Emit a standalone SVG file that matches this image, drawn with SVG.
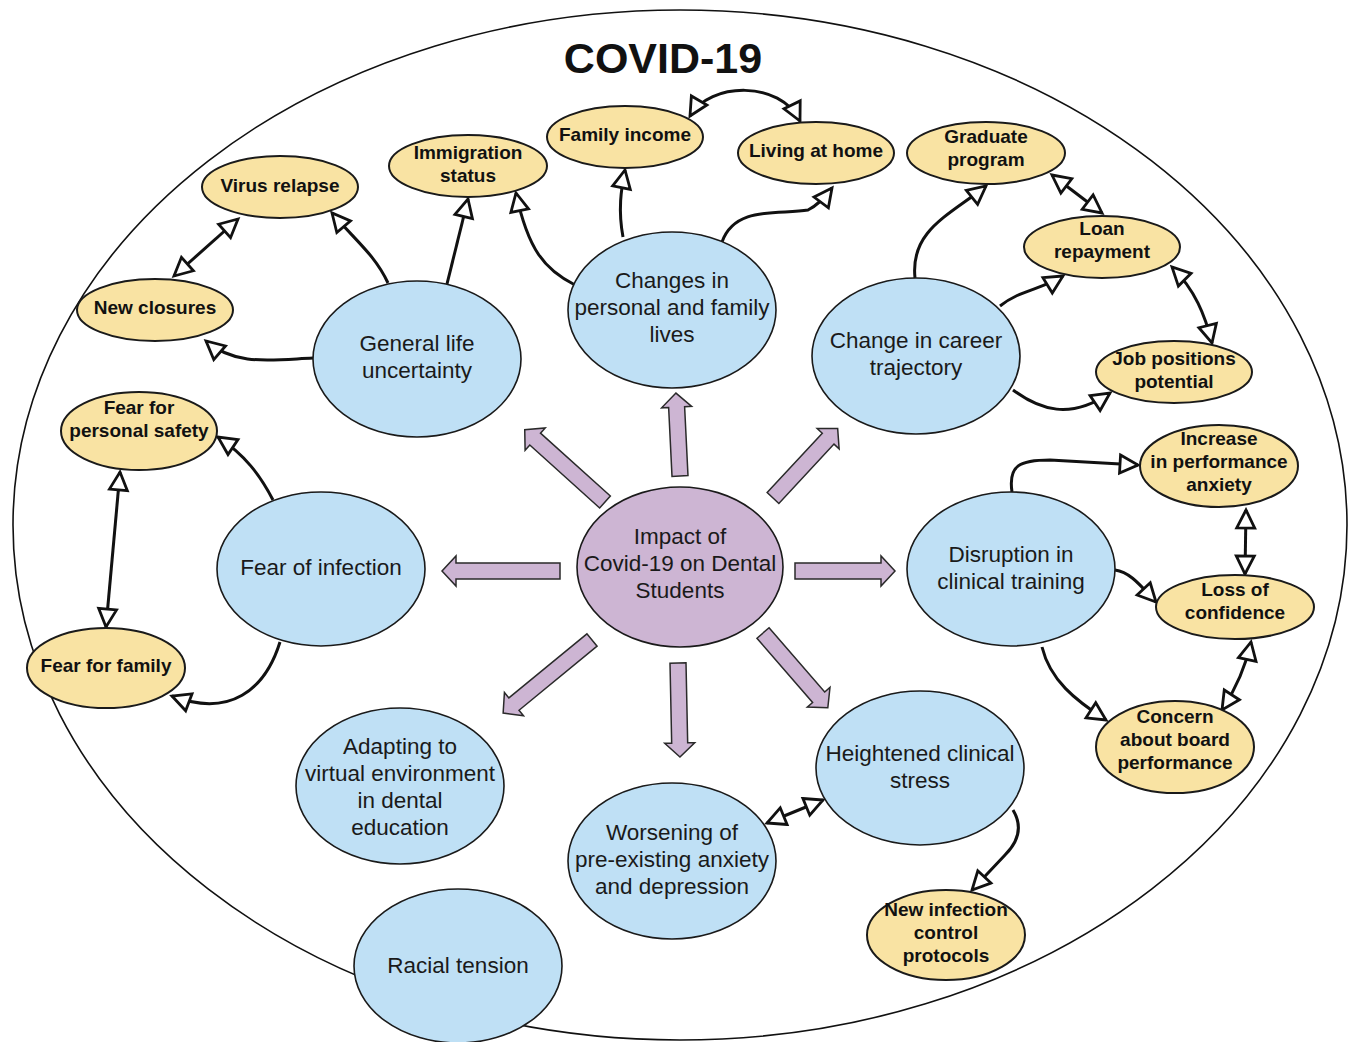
<svg xmlns="http://www.w3.org/2000/svg" width="1353" height="1042" viewBox="0 0 1353 1042">
<defs>
<style>
.bg{fill:#ffffff}
.outer{fill:none;stroke:#111;stroke-width:1.6}
.blue{fill:#bfe0f5;stroke:#1a1a1a;stroke-width:1.6}
.yel{fill:#f9e3a3;stroke:#1a1a1a;stroke-width:2}
.cen{fill:#cdb5d3;stroke:#1a1a1a;stroke-width:1.6}
.big{fill:#cdb5d3;stroke:#2a2a2a;stroke-width:1.5;stroke-linejoin:miter}
.bt{font-family:"Liberation Sans",Arial,sans-serif;font-size:22.5px;fill:#1a1a1a;text-anchor:middle}
.yt{font-family:"Liberation Sans",Arial,sans-serif;font-size:19px;font-weight:bold;fill:#111;text-anchor:middle}
.title{font-family:"Liberation Sans",Arial,sans-serif;font-size:43px;font-weight:bold;fill:#111;text-anchor:middle}
.con{fill:none;stroke:#111;stroke-width:3;marker-end:url(#tri)}
.dbl{fill:none;stroke:#111;stroke-width:3;marker-end:url(#tri);marker-start:url(#tri)}
</style>
<marker id="tri" viewBox="0 0 24 24" markerUnits="userSpaceOnUse" markerWidth="24" markerHeight="24" refX="21" refY="12" orient="auto-start-reverse">
<path d="M3,3 L21,12 L3,21 Z" fill="#fff" stroke="#111" stroke-width="2.8" stroke-linejoin="miter"/>
</marker>
</defs>
<rect class="bg" x="0" y="0" width="1353" height="1042"/>
<ellipse class="outer" cx="680" cy="525" rx="667" ry="515"/>
<text class="title" x="663" y="73">COVID-19</text>

<g id="connectors">
<path class="con" d="M313,358 C270,360 235,366 206,341"/>
<path class="con" d="M388,283 C375,255 355,240 332,213"/>
<path class="con" d="M447,284 L468,199"/>
<path class="dbl" d="M238,219 L174,276"/>
<path class="con" d="M575,285 C545,270 528,250 516,193"/>
<path class="con" d="M623,237 C618,210 621,190 625,170"/>
<path class="con" d="M722,242 C735,205 780,215 808,210 C818,205 826,196 832,188"/>
<path class="dbl" d="M690,116 C710,82 780,80 800,121"/>
<path class="con" d="M915,278 C910,230 950,215 986,186"/>
<path class="con" d="M1000,306 C1020,290 1040,290 1063,276"/>
<path class="con" d="M1013,390 C1040,410 1070,420 1110,393"/>
<path class="dbl" d="M1052,175 L1102,213"/>
<path class="dbl" d="M1172,267 C1195,290 1205,315 1212,343"/>
<path class="con" d="M273,500 C260,475 245,455 218,437"/>
<path class="con" d="M280,642 C265,690 230,718 172,696"/>
<path class="dbl" d="M120,472 L106,627"/>
<path class="con" d="M1012,492 C1008,465 1020,460 1050,460 L1138,465"/>
<path class="con" d="M1115,570 C1130,572 1140,585 1156,602"/>
<path class="con" d="M1042,647 C1050,680 1075,700 1106,720"/>
<path class="dbl" d="M1246,510 L1245,574"/>
<path class="dbl" d="M1251,642 C1245,670 1235,690 1222,710"/>
<path class="dbl" d="M767,823 L823,800"/>
<path class="con" d="M1013,810 C1022,825 1020,840 1005,855 L972,890"/>
</g>

<g id="impact-arrows">
<path class="big" transform="translate(795,571) rotate(0)" d="M0,-8 L86,-8 L86,-15 L100,0 L86,15 L86,8 L0,8 Z"/>
<path class="big" transform="translate(560,571) rotate(180)" d="M0,-8 L104,-8 L104,-15 L118,0 L104,15 L104,8 L0,8 Z"/>
<path class="big" transform="translate(680,476) rotate(-92.8)" d="M0,-8 L69,-8 L69,-15 L83,0 L69,15 L69,8 L0,8 Z"/>
<path class="big" transform="translate(605,502) rotate(-138)" d="M0,-8 L94,-8 L94,-15 L108,0 L94,15 L94,8 L0,8 Z"/>
<path class="big" transform="translate(773,498) rotate(-47.1)" d="M0,-8 L81,-8 L81,-15 L95,0 L81,15 L81,8 L0,8 Z"/>
<path class="big" transform="translate(592,640) rotate(140.6)" d="M0,-8 L101,-8 L101,-15 L115,0 L101,15 L101,8 L0,8 Z"/>
<path class="big" transform="translate(678,663) rotate(88.8)" d="M0,-8 L80,-8 L80,-15 L94,0 L80,15 L80,8 L0,8 Z"/>
<path class="big" transform="translate(763,633) rotate(49.1)" d="M0,-8 L85,-8 L85,-15 L99,0 L85,15 L85,8 L0,8 Z"/>
</g>

<g id="impact">
<ellipse class="cen" cx="680" cy="567" rx="103" ry="80"/>
<text class="bt" x="680" y="544">Impact of</text>
<text class="bt" x="680" y="571">Covid-19 on Dental</text>
<text class="bt" x="680" y="598">Students</text>
</g>

<g id="changes-personal">
<ellipse class="blue" cx="672" cy="310" rx="104" ry="78"/>
<text class="bt" x="672" y="288">Changes in</text>
<text class="bt" x="672" y="315">personal and family</text>
<text class="bt" x="672" y="342">lives</text>
</g>
<g id="general-life">
<ellipse class="blue" cx="417" cy="359" rx="104" ry="78"/>
<text class="bt" x="417" y="351">General life</text>
<text class="bt" x="417" y="378">uncertainty</text>
</g>
<g id="career">
<ellipse class="blue" cx="916" cy="356" rx="104" ry="78"/>
<text class="bt" x="916" y="348">Change in career</text>
<text class="bt" x="916" y="375">trajectory</text>
</g>
<g id="fear-infection">
<ellipse class="blue" cx="321" cy="569" rx="104" ry="77"/>
<text class="bt" x="321" y="575">Fear of infection</text>
</g>
<g id="disruption">
<ellipse class="blue" cx="1011" cy="569" rx="104" ry="77"/>
<text class="bt" x="1011" y="562">Disruption in</text>
<text class="bt" x="1011" y="589">clinical training</text>
</g>
<g id="adapting">
<ellipse class="blue" cx="400" cy="786" rx="104" ry="78"/>
<text class="bt" x="400" y="754">Adapting to</text>
<text class="bt" x="400" y="781">virtual environment</text>
<text class="bt" x="400" y="808">in dental</text>
<text class="bt" x="400" y="835">education</text>
</g>
<g id="worsening">
<ellipse class="blue" cx="672" cy="861" rx="104" ry="78"/>
<text class="bt" x="672" y="840">Worsening of</text>
<text class="bt" x="672" y="867">pre-existing anxiety</text>
<text class="bt" x="672" y="894">and depression</text>
</g>
<g id="heightened">
<ellipse class="blue" cx="920" cy="768" rx="104" ry="77"/>
<text class="bt" x="920" y="761">Heightened clinical</text>
<text class="bt" x="920" y="788">stress</text>
</g>
<g id="racial">
<ellipse class="blue" cx="458" cy="966" rx="104" ry="77"/>
<text class="bt" x="458" y="973">Racial tension</text>
</g>

<g id="virus-relapse">
<ellipse class="yel" cx="280" cy="187" rx="78" ry="31"/>
<text class="yt" x="280" y="192">Virus relapse</text>
</g>
<g id="new-closures">
<ellipse class="yel" cx="155" cy="310" rx="78" ry="31"/>
<text class="yt" x="155" y="314">New closures</text>
</g>
<g id="immigration">
<ellipse class="yel" cx="468" cy="166" rx="79" ry="31"/>
<text class="yt" x="468" y="159">Immigration</text>
<text class="yt" x="468" y="182">status</text>
</g>
<g id="family-income">
<ellipse class="yel" cx="625" cy="137" rx="78" ry="31"/>
<text class="yt" x="625" y="141">Family income</text>
</g>
<g id="living-home">
<ellipse class="yel" cx="816" cy="153" rx="78" ry="31"/>
<text class="yt" x="816" y="157">Living at home</text>
</g>
<g id="graduate">
<ellipse class="yel" cx="986" cy="153" rx="79" ry="31"/>
<text class="yt" x="986" y="143">Graduate</text>
<text class="yt" x="986" y="166">program</text>
</g>
<g id="loan">
<ellipse class="yel" cx="1102" cy="247" rx="78" ry="31"/>
<text class="yt" x="1102" y="235">Loan</text>
<text class="yt" x="1102" y="258">repayment</text>
</g>
<g id="job-positions">
<ellipse class="yel" cx="1174" cy="372" rx="78" ry="31"/>
<text class="yt" x="1174" y="365">Job positions</text>
<text class="yt" x="1174" y="388">potential</text>
</g>
<g id="fear-safety">
<ellipse class="yel" cx="139" cy="431" rx="78" ry="39"/>
<text class="yt" x="139" y="414">Fear for</text>
<text class="yt" x="139" y="437">personal safety</text>
</g>
<g id="fear-family">
<ellipse class="yel" cx="106" cy="668" rx="79" ry="40"/>
<text class="yt" x="106" y="672">Fear for family</text>
</g>
<g id="performance-anxiety">
<ellipse class="yel" cx="1219" cy="466" rx="79" ry="41"/>
<text class="yt" x="1219" y="445">Increase</text>
<text class="yt" x="1219" y="468">in performance</text>
<text class="yt" x="1219" y="491">anxiety</text>
</g>
<g id="loss-confidence">
<ellipse class="yel" cx="1235" cy="607" rx="79" ry="32"/>
<text class="yt" x="1235" y="596">Loss of</text>
<text class="yt" x="1235" y="619">confidence</text>
</g>
<g id="board-concern">
<ellipse class="yel" cx="1175" cy="747" rx="79" ry="46"/>
<text class="yt" x="1175" y="723">Concern</text>
<text class="yt" x="1175" y="746">about board</text>
<text class="yt" x="1175" y="769">performance</text>
</g>
<g id="infection-protocols">
<ellipse class="yel" cx="946" cy="935" rx="79" ry="45"/>
<text class="yt" x="946" y="916">New infection</text>
<text class="yt" x="946" y="939">control</text>
<text class="yt" x="946" y="962">protocols</text>
</g>
</svg>
